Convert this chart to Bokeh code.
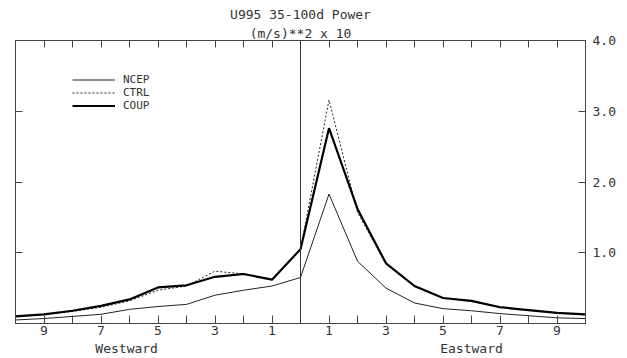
from bokeh.plotting import figure
from bokeh.models import (FixedTicker, LinearAxis, Range1d, Span, Title, Legend, LegendItem,
                          CustomJSTickFormatter, PrintfTickFormatter)
from bokeh.embed import file_html
from bokeh.resources import INLINE

wavenumber = list(range(-10, 11))
ncep = [0.05, 0.07, 0.10, 0.13, 0.20, 0.24, 0.27, 0.40, 0.47, 0.53, 0.65,
        1.83, 0.88, 0.50, 0.29, 0.21, 0.18, 0.14, 0.11, 0.08, 0.07]
ctrl = [0.10, 0.13, 0.17, 0.23, 0.32, 0.47, 0.53, 0.74, 0.70, 0.62, 1.05,
        3.16, 1.57, 0.84, 0.52, 0.36, 0.31, 0.24, 0.19, 0.15, 0.12]
coup = [0.10, 0.13, 0.18, 0.25, 0.34, 0.51, 0.54, 0.66, 0.70, 0.62, 1.05,
        2.76, 1.62, 0.85, 0.53, 0.36, 0.32, 0.23, 0.19, 0.15, 0.13]
y_ticks = [1, 2, 3, 4]
x_major = [-9, -7, -5, -3, -1, 1, 3, 5, 7, 9]
x_minor = [-10, -8, -6, -4, -2, 0, 2, 4, 6, 8, 10]
direction_ticks = [-6.1, 6.0]
title1 = "U995 35-100d Power"
title2 = "(m/s)**2 x 10"

FONT = "DejaVu Sans Mono"
TXT = "#333333"
AX = "#444444"

p = figure(width=627, height=358, output_backend="svg", toolbar_location=None,
           x_range=Range1d(-10, 10), y_range=Range1d(0, 4),
           y_axis_location="right", x_axis_location=None,
           min_border_left=15, min_border_right=42, min_border_top=40, min_border_bottom=35)
p.grid.visible = False
p.outline_line_color = AX
p.background_fill_color = "white"
p.border_fill_color = "white"

l1 = p.line(wavenumber, ncep, line_color="#222222", line_width=1)
l2 = p.line(wavenumber, ctrl, line_color="#222222", line_width=1, line_dash="2 2")
l3 = p.line(wavenumber, coup, line_color="black", line_width=2.2)

p.add_layout(Span(location=0, dimension="height", line_color="#333333", line_width=1))

empty = CustomJSTickFormatter(code="return '';")

# bottom axis
xa = LinearAxis(ticker=FixedTicker(ticks=x_major, minor_ticks=x_minor),
                formatter=CustomJSTickFormatter(code="return String(Math.abs(tick));"),
                major_tick_in=8, major_tick_out=0, minor_tick_in=8, minor_tick_out=0,
                axis_line_color=AX, major_tick_line_color=AX, minor_tick_line_color=AX,
                major_label_text_font=FONT, major_label_text_font_size="13px",
                major_label_text_color=TXT, major_label_standoff=2)
p.add_layout(xa, "below")

# direction labels axis
da = LinearAxis(ticker=FixedTicker(ticks=direction_ticks, minor_ticks=[]),
                formatter=CustomJSTickFormatter(code="return tick < 0 ? 'Westward' : 'Eastward';"),
                major_tick_in=0, major_tick_out=0, minor_tick_line_color=None,
                axis_line_color=None, major_tick_line_color=None,
                major_label_text_font=FONT, major_label_text_font_size="13px",
                major_label_text_color=TXT, major_label_standoff=3)
p.add_layout(da, "below")

# top axis (ticks only)
ta = LinearAxis(ticker=FixedTicker(ticks=wavenumber, minor_ticks=[]), formatter=empty,
                major_tick_in=7, major_tick_out=0, minor_tick_line_color=None,
                major_label_standoff=0, axis_line_color=AX, major_tick_line_color=AX)
p.add_layout(ta, "above")

# right axis
ya = p.yaxis[0]
ya.ticker = FixedTicker(ticks=y_ticks, minor_ticks=[])
ya.formatter = PrintfTickFormatter(format="%.1f")
ya.major_tick_in = 7
ya.major_tick_out = 0
ya.minor_tick_line_color = None
ya.axis_line_color = AX
ya.major_tick_line_color = AX
ya.major_label_text_font = FONT
ya.major_label_text_font_size = "13px"
ya.major_label_text_color = TXT
ya.major_label_standoff = 7

# left axis (ticks only)
la = LinearAxis(ticker=FixedTicker(ticks=y_ticks, minor_ticks=[]), formatter=empty,
                major_tick_in=7, major_tick_out=0, minor_tick_line_color=None,
                major_label_standoff=0, axis_line_color=AX, major_tick_line_color=AX)
p.add_layout(la, "left")

# titles
p.add_layout(Title(text=title2, align="center", text_font=FONT, text_font_size="13px",
                   text_font_style="normal", text_color=TXT, standoff=0, offset=0), "above")
p.add_layout(Title(text=title1, align="center", text_font=FONT, text_font_size="13px",
                   text_font_style="normal", text_color=TXT, standoff=4, offset=0), "above")

legend = Legend(items=[LegendItem(label="NCEP", renderers=[l1]),
                       LegendItem(label="CTRL", renderers=[l2]),
                       LegendItem(label="COUP", renderers=[l3])],
                location=(57, 211), border_line_color=None, background_fill_alpha=0,
                label_text_font=FONT, label_text_font_size="11px", label_text_color=TXT,
                glyph_width=43, glyph_height=9, label_height=9, spacing=-4, padding=0,
                label_standoff=8, margin=0)
p.add_layout(legend, "center")

open("out.html", "w").write(file_html(p, INLINE))
